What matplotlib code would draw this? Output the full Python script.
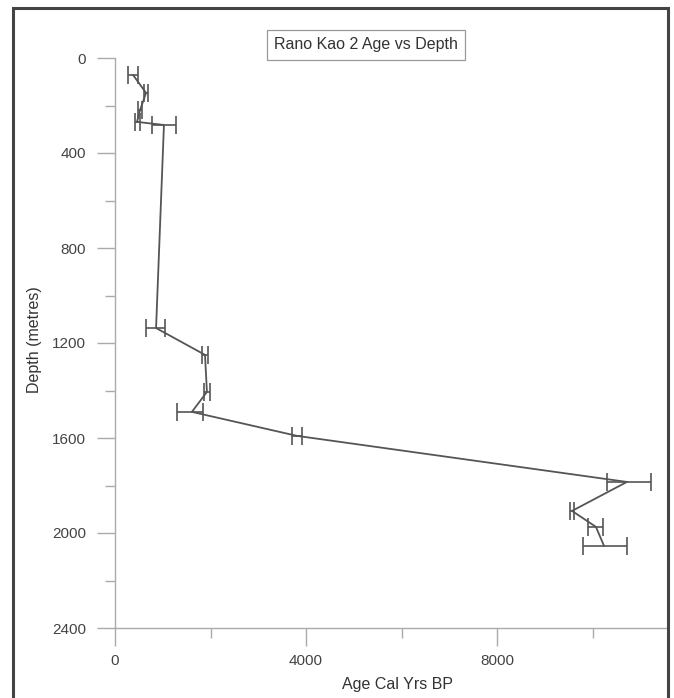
import matplotlib
matplotlib.use("Agg")
import matplotlib.pyplot as plt
import numpy as np
from matplotlib.ticker import MultipleLocator

plt.rcParams['font.family'] = ['Liberation Sans', 'DejaVu Sans']

# depth (as labelled on the chart) and calibrated age with its range
depth = [72, 147, 219, 269, 282, 1137, 1250, 1406, 1490, 1591, 1785, 1907, 1974, 2054]
age = [380, 650, 525, 460, 1025, 860, 1885, 1925, 1610, 3810, 10720, 9570, 10070, 10240]
age_lo = [270, 610, 480, 410, 775, 650, 1820, 1865, 1300, 3705, 10300, 9530, 9905, 9800]
age_hi = [480, 690, 565, 515, 1275, 1045, 1945, 1990, 1845, 3915, 11225, 9610, 10220, 10720]

title = "Rano Kao 2 Age vs Depth"
xlabel = "Age Cal Yrs BP"
ylabel = "Depth (metres)"

age = np.array(age)
xerr = [age - np.array(age_lo), np.array(age_hi) - age]

W, H = 674, 698
fig = plt.figure(figsize=(W / 100, H / 100), dpi=100)
ax = fig.add_axes([115 / W, 1 - 628 / H, (668 - 115) / W, (628 - 58) / H])

line_col = '#555555'
axis_col = '#ababab'

ax.errorbar(age, depth, xerr=xerr, color=line_col, ecolor=line_col,
            elinewidth=1.2, capsize=6.8, capthick=1.2, linewidth=1.3)

ax.set_xlim(0, 11580)
ax.set_ylim(2400, 0)

ax.xaxis.set_major_locator(MultipleLocator(4000))
ax.xaxis.set_minor_locator(MultipleLocator(2000))
ax.yaxis.set_major_locator(MultipleLocator(400))
ax.yaxis.set_minor_locator(MultipleLocator(200))

for s in ['top', 'right']:
    ax.spines[s].set_visible(False)
for s in ['left', 'bottom']:
    ax.spines[s].set_color(axis_col)
    ax.spines[s].set_linewidth(1.0)

ax.tick_params(which='major', length=13, width=1.0, color=axis_col,
               labelsize=11, labelcolor='#444444')
ax.tick_params(which='minor', length=7, width=1.0, color=axis_col)
ax.tick_params(axis='y', which='major', pad=8)
ax.tick_params(axis='x', which='major', pad=6)

fig.text(366 / W, 1 - 45 / H, title, ha='center', va='center', fontsize=11.5,
         color='#333333',
         bbox=dict(boxstyle='square,pad=0.45', facecolor='white', edgecolor='#999999', linewidth=0.9))
fig.text(398 / W, 1 - 685 / H, xlabel, ha='center', va='center', fontsize=11.5, color='#333333')
fig.text(35 / W, 1 - 340 / H, ylabel, ha='center', va='center', rotation=90,
         fontsize=11.5, color='#333333')

# outer frame
frame = plt.Rectangle((13 / W, -0.05), (668 - 13) / W, 1.05 - 8 / H, transform=fig.transFigure,
                      fill=False, edgecolor='#444444', linewidth=2.2)
fig.add_artist(frame)

fig.savefig("out.png", dpi=100)
